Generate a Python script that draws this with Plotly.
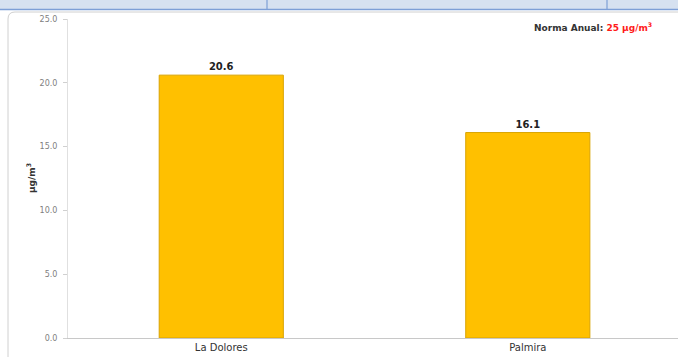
import plotly.graph_objects as go

categories = ["La Dolores", "Palmira"]
values = [20.6, 16.1]
value_labels = ["<b>20.6</b>", "<b>16.1</b>"]
tick_vals = [0, 5, 10, 15, 20, 25]
tick_text = ["0.0", "5.0", "10.0", "15.0", "20.0", "25.0"]

W, H = 678, 357
L, T, B = 68, 19, 19
PW = W - L
PH = H - T - B
FONT = "DejaVu Sans, Liberation Sans, Arial"

def px(x):
    return (x - L) / PW

def py(y):
    return (H - B - y) / PH

fig = go.Figure()
fig.add_trace(go.Bar(
    x=categories, y=values, width=0.405,
    marker=dict(color="#FFC000", line=dict(color="#D9A300", width=1)),
    text=value_labels, textposition="outside",
    textfont=dict(family=FONT, size=10, color="#222222"),
    cliponaxis=False, hoverinfo="skip",
))

shapes = []
shapes.append(dict(type="rect", xref="paper", yref="paper", x0=px(-5), x1=px(W + 5),
                   y0=py(9.5), y1=py(-5), fillcolor="#d6e1f0", line=dict(width=0), layer="above"))
shapes.append(dict(type="line", xref="paper", yref="paper", x0=px(0), x1=px(W),
                   y0=py(9.5), y1=py(9.5), line=dict(color="#7d9fd6", width=1.5)))
for xv in (267, 607):
    shapes.append(dict(type="line", xref="paper", yref="paper", x0=px(xv), x1=px(xv),
                       y0=py(9.5), y1=py(0), line=dict(color="#7d9fd6", width=1.2)))
r = 7
x0, y0 = 8, 12
path = (f"M {px(x0)},{py(H + 5)} L {px(x0)},{py(y0 + r)} "
        f"Q {px(x0)},{py(y0)} {px(x0 + r)},{py(y0)} L {px(W + 5)},{py(y0)}")
shapes.append(dict(type="path", xref="paper", yref="paper", path=path,
                   line=dict(color="#d0d0d0", width=1)))

fig.update_layout(
    width=W, height=H,
    margin=dict(l=L, r=0, t=T, b=B, autoexpand=False),
    paper_bgcolor="white", plot_bgcolor="white",
    showlegend=False,
    shapes=shapes,
    font=dict(family=FONT, size=8, color="#555555"),
    xaxis=dict(range=[-0.5, 1.49], showgrid=False, showline=True, linecolor="#c8c8c8",
               linewidth=1, ticks="", tickfont=dict(size=10, color="#333333"),
               automargin=False, fixedrange=True),
    yaxis=dict(range=[0, 25], tickvals=tick_vals, ticktext=tick_text, showgrid=False,
               showline=True, linecolor="#e0e0e0", linewidth=1, ticks="outside",
               ticklen=4, tickcolor="#d0d0d0", tickfont=dict(size=8, color="#808080"),
               ticklabelstandoff=4,
               zeroline=False, fixedrange=True, automargin=False),
    annotations=[
        dict(xref="paper", yref="paper", x=px(654), y=py(27), xanchor="right", yanchor="middle",
             showarrow=False,
             text="<b>Norma Anual: <span style='color:#ff1a1a'>25 µg/m<sup>3</sup></span></b>",
             font=dict(size=9, color="#333333")),
        dict(xref="paper", yref="paper", x=px(31), y=py(178), xanchor="center", yanchor="middle",
             showarrow=False, textangle=-90,
             text="<b>µg/m<sup>3</sup></b>", font=dict(size=9, color="#333333")),
    ],
)

fig.write_html("out.html", config={"displayModeBar": False},
               post_script="document.body.style.margin='0';document.body.style.overflow='hidden';")
